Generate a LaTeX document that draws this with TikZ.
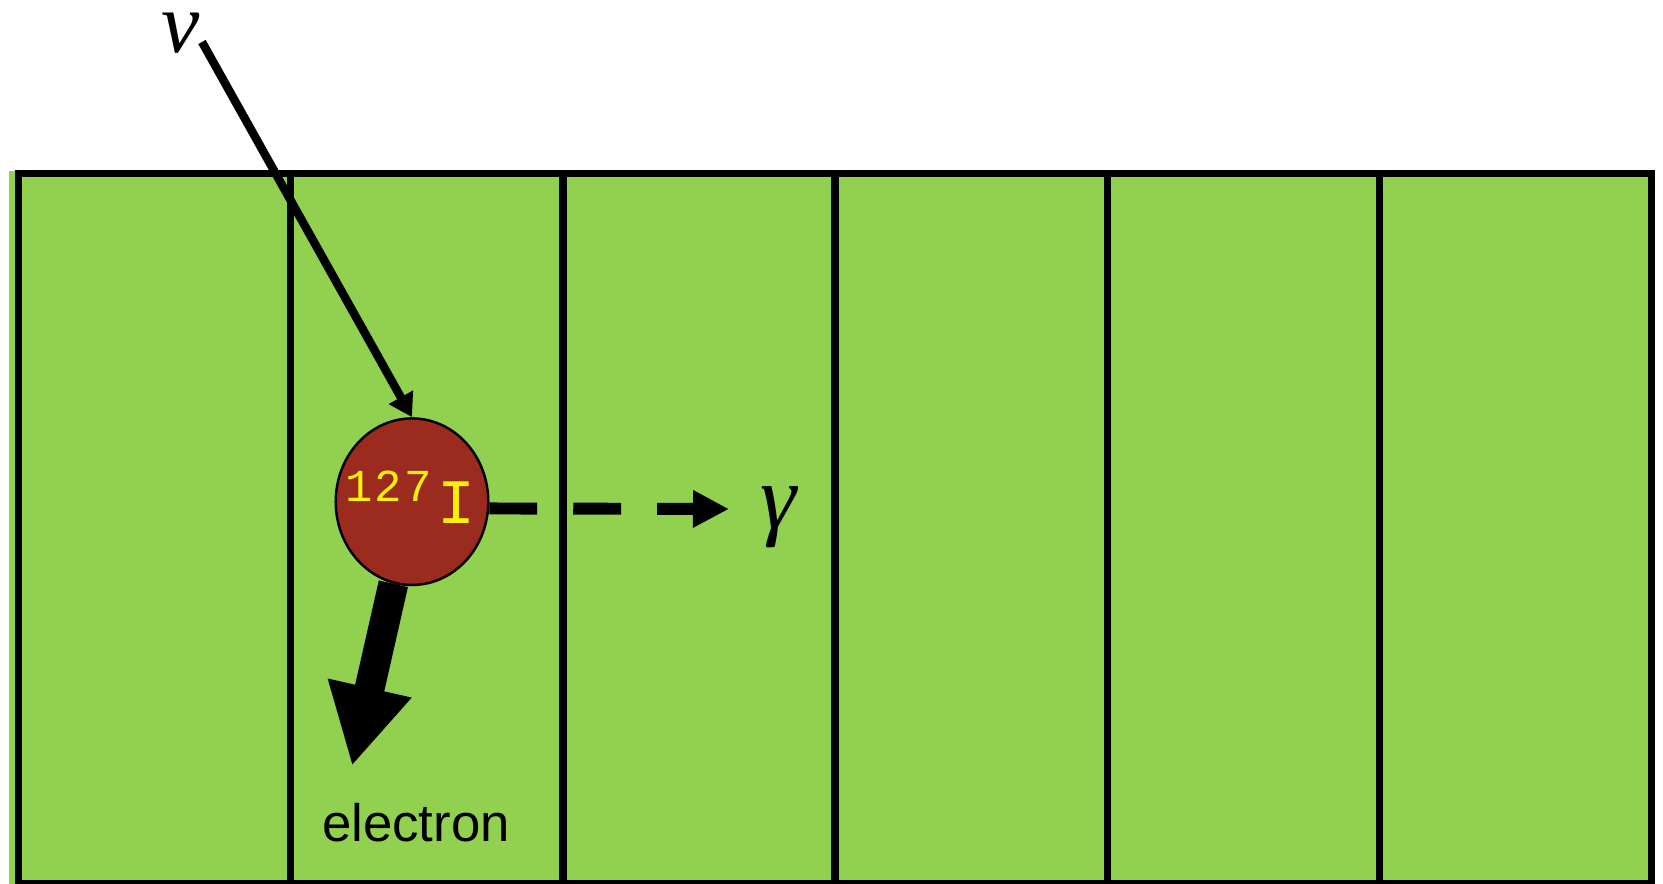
\documentclass[tikz,border=0pt]{standalone}
\usepackage{fontspec}
\setmainfont{Liberation Sans}
\newfontfamily\greekfont{Liberation Serif}
\newfontfamily\isofont{Liberation Mono}
\usetikzlibrary{arrows.meta,shapes.geometric}
\definecolor{scint}{RGB}{146,208,80}
\definecolor{nucred}{RGB}{155,43,31}
\tikzset{
  wall/.style={line width=4.3pt},
  nucleus/.style={ellipse, draw=black, line width=1.4pt, fill=nucred, minimum width=3.052cm, minimum height=3.332cm, inner sep=0pt},
  greek/.style={inner sep=0pt, font=\greekfont\itshape\fontsize{52}{60}\selectfont},
  nuarrow/.style={line width=4.8pt, -{Triangle[length=13pt, width=15pt]}},
  gamarrow/.style={line width=6.8pt, dash pattern=on 27.3pt off 20.5pt, -{Triangle[length=20.5pt, width=20pt]}},
  earrow/.style={line width=17pt, -{Triangle[length=45.5pt, width=45.5pt]}},
}
\begin{document}
\begin{tikzpicture}[x=0.02cm,y=-0.02cm]
\useasboundingbox (0,0) rectangle (1663,884);
\fill[scint] (9,171) rectangle (1651.5,884);
\draw[wall] (18.5,173.3) rectangle (1651.5,883.5);
\foreach \x in {290.7,562.9,835.2,1107.3,1379.5}
  \draw[wall] (\x,173.3) -- (\x,884);
\node[nucleus] (nuc) at (412,501.7) {};
\node[anchor=base west, text=yellow, inner sep=0pt] (iso) at (345,524)
  {\raisebox{12.7pt}{\isofont\fontsize{26}{26}\selectfont\hbox to 49pt{1\hfill 2\hfill 7}}\kern 3.5pt\isofont\fontsize{36}{36}\selectfont I};
\coordinate (nustart) at (202,42);
\draw[nuarrow] (nustart) -- (nuc.north);
\node[greek, anchor=base, font=\greekfont\itshape\fontsize{49}{56}\selectfont] (nu) at (181,53) {ν};
\coordinate (gend) at (729,509);
\draw[gamarrow] (nuc.-5) -- (gend);
\node[greek, anchor=base] (gam) at (778,529) {γ};
\coordinate (etip) at (352,766);
\draw[earrow] (nuc) -- (etip);
\node[anchor=base, inner sep=0pt] (el) at (416,841) {\fontsize{30}{36}\selectfont electron};
\end{tikzpicture}
\end{document}
